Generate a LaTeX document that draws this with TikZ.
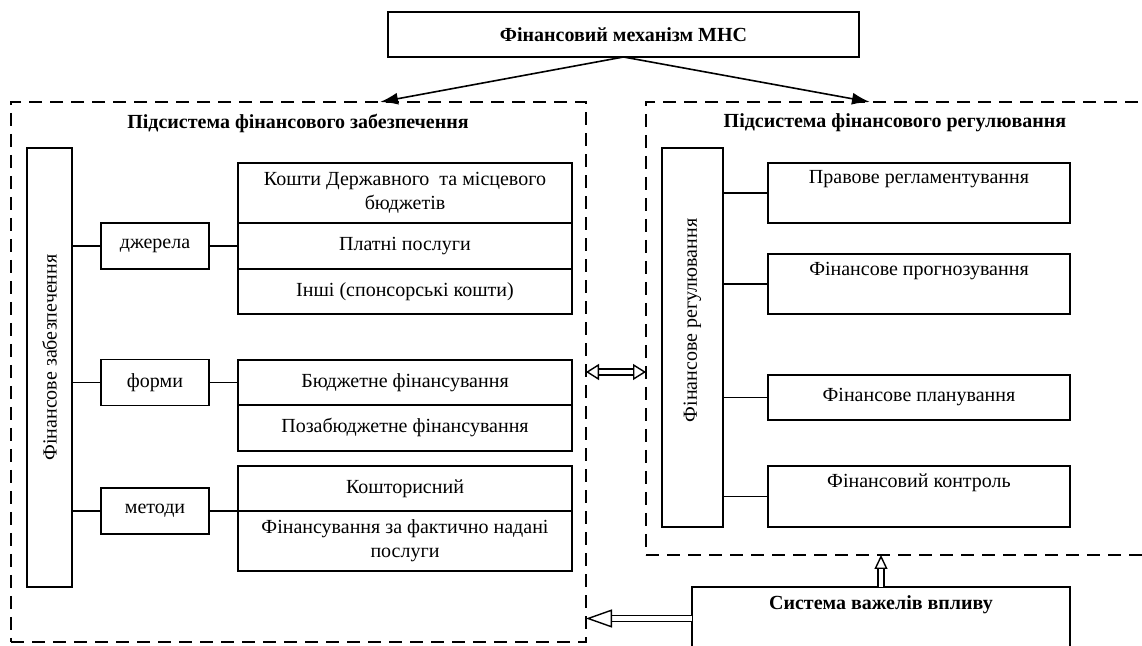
\documentclass[tikz,border=0pt]{standalone}
\usepackage{fontspec}
\setmainfont{Liberation Serif}
\usetikzlibrary{arrows.meta,positioning}

\begin{document}
\begin{tikzpicture}[x=0.5pt, y=-0.5pt,
    box/.style={draw, line width=0.8pt, outer sep=0pt, inner sep=2pt, align=center},
    cell/.style={box, minimum width=167pt},
    tag/.style={box, minimum width=54pt, minimum height=23pt},
    rbox/.style={box, minimum width=151pt},
    subsys/.style={draw, dash pattern=on 6.5pt off 4pt, line width=1pt, outer sep=0pt},
    link/.style={line width=0.8pt},
    hollow/.style={double, double distance=2.2pt, line width=0.7pt}]
    \useasboundingbox (0,0) rectangle (1142,646);

    % Top
    \node[box, minimum width=235.5pt, minimum height=22.5pt, font=\bfseries] (mech) at (623.5,34.5) {Фінансовий механізм МНС};

    \node[subsys, minimum width=287.5pt, minimum height=270pt] (supply) at (298.5,372) {};
    \node[subsys, minimum width=267pt, minimum height=226.5pt] (regul) at (913,328.5) {};
    \node[font=\bfseries] (supplytitle) at (298,123) {Підсистема фінансового забезпечення};
    \node[font=\bfseries] (regultitle) at (895,123) {Підсистема фінансового регулювання};

    \draw[line width=0.8pt, -{Latex[length=9pt,width=6pt]}] (mech.south) -- ([xshift=40.75pt]supply.north);
    \draw[line width=0.8pt, -{Latex[length=9pt,width=6pt]}] (mech.south) -- ([xshift=-21.5pt]regul.north);

    % Supply side
    \node[box, minimum width=22.5pt, minimum height=219.5pt] (fz) at (49.5,367.5) {\rotatebox{90}{\hspace*{10pt}Фінансове забезпечення}};

    \node[tag] (sources) at (155,246) {джерела};
    \node[tag] (forms) at (155,382.5) {форми};
    \node[tag] (methods) at (155,511) {методи};

    \node[cell, minimum height=30pt] (budgets) at (405,193) {Кошти Державного\ \ та місцевого\\бюджетів};
    \node[cell, minimum height=23pt, below=0pt of budgets] (paid) {Платні послуги};
    \node[cell, minimum height=22.5pt, below=0pt of paid] (other) {Інші (спонсорські кошти)};

    \node[cell, minimum height=22.5pt] (budgetfin) at (405,382.5) {Бюджетне фінансування};
    \node[cell, minimum height=23pt, below=0pt of budgetfin] (extrafin) {Позабюджетне фінансування};

    \node[cell, minimum height=22.5pt] (estimate) at (405,488.5) {Кошторисний};
    \node[cell, minimum height=30pt, below=0pt of estimate] (actual) {Фінансування за фактично надані\\послуги};

    \foreach \t in {sources,forms,methods}
        \draw[link] (fz.east |- \t.west) -- (\t.west);
    \draw[link] (sources.east) -- (paid.west);
    \draw[link] (forms.east) -- (budgetfin.west);
    \draw[link] (methods.east) -- (methods.east -| actual.west);

    % Regulation side
    \node[box, minimum width=30.5pt, minimum height=189.5pt] (fr) at (692.5,337.5) {\rotatebox{90}{\hspace*{17pt}Фінансове регулювання}};

    \node[rbox, minimum height=30pt] (legal) at (919,193) {Правове регламентування\\\strut};
    \node[rbox, minimum height=30pt] (forecast) at (919,284) {Фінансове прогнозування\\\strut};
    \node[rbox, minimum height=22.5pt] (planning) at (919,397.5) {Фінансове планування};
    \node[rbox, minimum height=30.5pt] (control) at (919,496.5) {Фінансовий контроль\\\strut};

    \foreach \b in {legal,forecast,planning,control}
        \draw[link] (fr.east |- \b.west) -- (\b.west);

    % Levers
    \node[box, minimum width=189pt, minimum height=31.5pt, font=\bfseries] (levers) at (881,618.5) {Система важелів впливу\\\strut};

    \draw[hollow, {Triangle[open, length=6.5pt, width=8pt]}-{Triangle[open, length=6.5pt, width=8pt]}] (supply.east) -- (supply.east -| regul.west);
    \draw[hollow, -{Triangle[open, length=7pt, width=6.5pt]}] (levers.north) -- (levers.north |- regul.south);
    \draw[hollow, -{Triangle[open, length=13pt, width=9pt]}] (levers.west) -- (levers.west -| supply.east);
\end{tikzpicture}
\end{document}
